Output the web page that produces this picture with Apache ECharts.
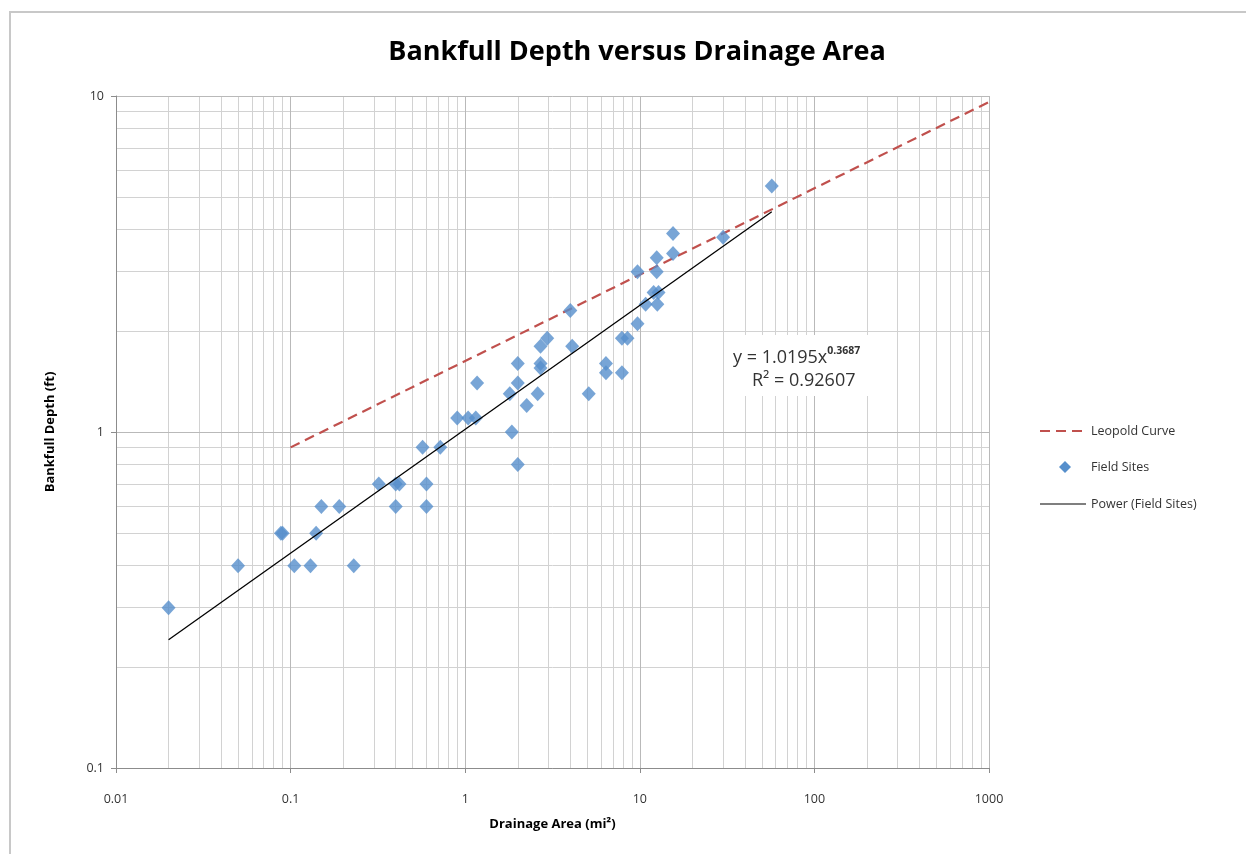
<!DOCTYPE html>
<html>
<head>
<meta charset="utf-8">
<title>Bankfull Depth versus Drainage Area</title>
<script src="https://cdn.jsdelivr.net/npm/echarts@6/dist/echarts.min.js"></script>
<style>
  html, body { margin: 0; padding: 0; background: #ffffff; }
  #chart { width: 1246px; height: 854px; }
</style>
</head>
<body>
<div id="chart"></div>
<script>
// Field measurements: drainage area (mi²) and bankfull depth (ft)
const areas = [
  0.02, 0.05, 0.088, 0.09, 0.105, 0.13, 0.14, 0.15, 0.19, 0.23,
  0.32, 0.40, 0.42, 0.40, 0.60, 0.60, 0.57, 0.72, 0.90, 1.04,
  1.15, 1.17, 1.85, 2.0, 1.8, 2.0, 2.0, 2.6, 2.25, 2.7,
  2.7, 2.7, 2.95, 4.0, 4.1, 5.1, 6.4, 6.4, 7.9, 7.9,
  8.5, 9.7, 10.8, 12.0, 12.6, 12.8, 9.7, 12.5, 12.5, 15.5,
  15.5, 30, 57
];
const depths = [
  0.30, 0.40, 0.50, 0.50, 0.40, 0.40, 0.50, 0.60, 0.60, 0.40,
  0.70, 0.70, 0.70, 0.60, 0.70, 0.60, 0.90, 0.90, 1.10, 1.10,
  1.10, 1.40, 1.00, 0.80, 1.30, 1.40, 1.60, 1.30, 1.20, 1.60,
  1.55, 1.80, 1.90, 2.30, 1.80, 1.30, 1.60, 1.50, 1.50, 1.90,
  1.90, 2.10, 2.40, 2.60, 2.40, 2.60, 3.00, 3.30, 3.00, 3.90,
  3.40, 3.80, 5.40
];

// Leopold regional curve end points
const leopoldAreas = [0.1, 1000];
const leopoldDepths = [0.9, 9.6];

// Power trend fitted to the field sites: y = a * x^b
const fitA = 1.0195;
const fitB = 0.3687;
const fitR2 = '0.92607';

// Axis tick labels
const xTickLabels = ['0.01', '0.1', '1', '10', '100', '1000'];
const yTickLabels = ['0.1', '1', '10'];

// Series names, shown in the legend
const seriesNames = ['Leopold Curve', 'Field Sites', 'Power (Field Sites)'];

const font = "'Open Sans', 'DejaVu Sans', sans-serif";
const blue = '#568fcc';
const red = '#c0504d';

const fieldData = areas.map((a, i) => [a, depths[i]]);
const leopoldData = leopoldAreas.map((a, i) => [a, leopoldDepths[i]]);
const xMin = Math.min(...areas), xMax = Math.max(...areas);
const fitData = [xMin, xMax].map(x => [x, fitA * Math.pow(x, fitB)]);

// Log gridlines at 1..9 within every decade
function logLines(lo, hi) {
  const major = [], minor = [];
  for (let d = lo; d < hi * 0.999; d *= 10) {
    major.push(d);
    for (let k = 2; k <= 9; k++) minor.push(+(d * k).toPrecision(6));
  }
  major.push(hi);
  return { major, minor };
}
const vLines = logLines(0.01, 1000);
const hLines = logLines(0.1, 10);
const minorStyle = { color: '#d2d2d2', width: 1, type: 'solid' };
const majorStyle = { color: '#b9b9b9', width: 1, type: 'solid' };
const gridMarks = [].concat(
  vLines.minor.map(v => ({ xAxis: v, lineStyle: minorStyle })),
  hLines.minor.map(v => ({ yAxis: v, lineStyle: minorStyle })),
  vLines.major.map(v => ({ xAxis: v, lineStyle: majorStyle })),
  hLines.major.map(v => ({ yAxis: v, lineStyle: majorStyle }))
);

function fmt(v, labels) {
  const s = labels.find(l => Math.abs(parseFloat(l) - v) < 1e-9 * Math.max(1, v));
  return s !== undefined ? s : '';
}

// Legend drawn as graphic items: sample mark + label
const legendX = 1040, legendYs = [431, 467, 504];
const legendText = { fontFamily: font, fontSize: 12.5, fill: '#333' };
const dx = legendX + 25, dy = legendYs[1];
const legendGraphics = [
  { type: 'line', shape: { x1: legendX, y1: legendYs[0], x2: legendX + 46, y2: legendYs[0] },
    style: { stroke: red, lineWidth: 2.2, lineDash: [10, 6] } },
  { type: 'polygon', shape: { points: [[dx, dy - 6], [dx + 6, dy], [dx, dy + 6], [dx - 6, dy]] },
    style: { fill: blue } },
  { type: 'line', shape: { x1: legendX, y1: legendYs[2], x2: legendX + 46, y2: legendYs[2] },
    style: { stroke: '#555555', lineWidth: 1.6 } }
].concat(seriesNames.map((n, i) => ({
  type: 'text', x: legendX + 51, y: legendYs[i],
  style: Object.assign({ text: n, verticalAlign: 'middle' }, legendText)
})));

const chart = echarts.init(document.getElementById('chart'));
chart.setOption({
  animation: false,
  backgroundColor: '#ffffff',
  textStyle: { fontFamily: font },
  title: {
    text: 'Bankfull Depth versus Drainage Area',
    left: 632, top: 34, textAlign: 'center',
    textStyle: { fontFamily: font, fontSize: 27, fontWeight: 'bold', color: '#000000' }
  },
  grid: { left: 116, top: 96, width: 873, height: 672, containLabel: false },
  xAxis: {
    type: 'log', logBase: 10, min: 0.01, max: 1000,
    name: 'Drainage Area (mi²)', nameLocation: 'middle', nameGap: 50,
    nameTextStyle: { fontFamily: font, fontSize: 13, fontWeight: 'bold', color: '#000' },
    axisLine: { show: true, lineStyle: { color: '#8c8c8c', width: 1 } },
    axisTick: { show: true, length: 5, lineStyle: { color: '#8c8c8c' } },
    axisLabel: { fontFamily: font, fontSize: 12.5, color: '#333', margin: 25,
      formatter: v => fmt(v, xTickLabels) },
    splitLine: { show: false }
  },
  yAxis: {
    type: 'log', logBase: 10, min: 0.1, max: 10,
    name: 'Bankfull Depth (ft)', nameLocation: 'middle', nameGap: 59, nameRotate: 90,
    nameTextStyle: { fontFamily: font, fontSize: 13, fontWeight: 'bold', color: '#000' },
    axisLine: { show: true, lineStyle: { color: '#8c8c8c', width: 1 } },
    axisTick: { show: true, length: 5, lineStyle: { color: '#8c8c8c' } },
    axisLabel: { fontFamily: font, fontSize: 12.5, color: '#333', margin: 12,
      formatter: v => fmt(v, yTickLabels) },
    splitLine: { show: false }
  },
  series: [
    {
      name: 'grid', type: 'line', data: [], silent: true, z: 0,
      markLine: { silent: true, symbol: 'none', z: 0, label: { show: false },
        animation: false, data: gridMarks }
    },
    {
      name: seriesNames[0], type: 'line', data: leopoldData,
      showSymbol: false, symbol: 'none', z: 3,
      lineStyle: { color: red, width: 2.2, type: [10, 6] },
      itemStyle: { color: red }
    },
    {
      name: seriesNames[1], type: 'scatter', data: fieldData,
      symbol: 'diamond', symbolSize: [14, 15], z: 4,
      itemStyle: { color: blue }
    },
    {
      name: seriesNames[2], type: 'line', data: fitData,
      showSymbol: false, symbol: 'none', z: 5,
      lineStyle: { color: '#000000', width: 1.3 },
      itemStyle: { color: '#000000' }
    }
  ],
  graphic: [
    {
      type: 'rect', z: -10, silent: true,
      shape: { x: 10, y: 12, width: 1300, height: 900 },
      style: { fill: 'none', stroke: '#c8c8c8', lineWidth: 2 }
    },
    {
      type: 'rect', z: 50, silent: true,
      shape: { x: 724, y: 335, width: 146, height: 61 },
      style: { fill: '#ffffff' }
    },
    {
      type: 'text', z: 51, silent: true, x: 733, y: 355,
      style: {
        text: '{b|y = ' + fitA + 'x}{s|' + fitB + '}',
        verticalAlign: 'middle',
        rich: {
          b: { fontFamily: font, fontSize: 18, fill: '#333', lineHeight: 24, verticalAlign: 'bottom' },
          s: { fontFamily: font, fontSize: 10.5, fill: '#333', fontWeight: 'bold', padding: [0, 0, 10, 0], verticalAlign: 'bottom' }
        }
      }
    },
    {
      type: 'text', z: 51, silent: true, x: 752, y: 381,
      style: { text: 'R² = ' + fitR2, fontFamily: font, fontSize: 18, fill: '#333', verticalAlign: 'middle' }
    }
  ].concat(legendGraphics.map(g => Object.assign({ silent: true, z: 51 }, g)))
});
</script>
</body>
</html>
